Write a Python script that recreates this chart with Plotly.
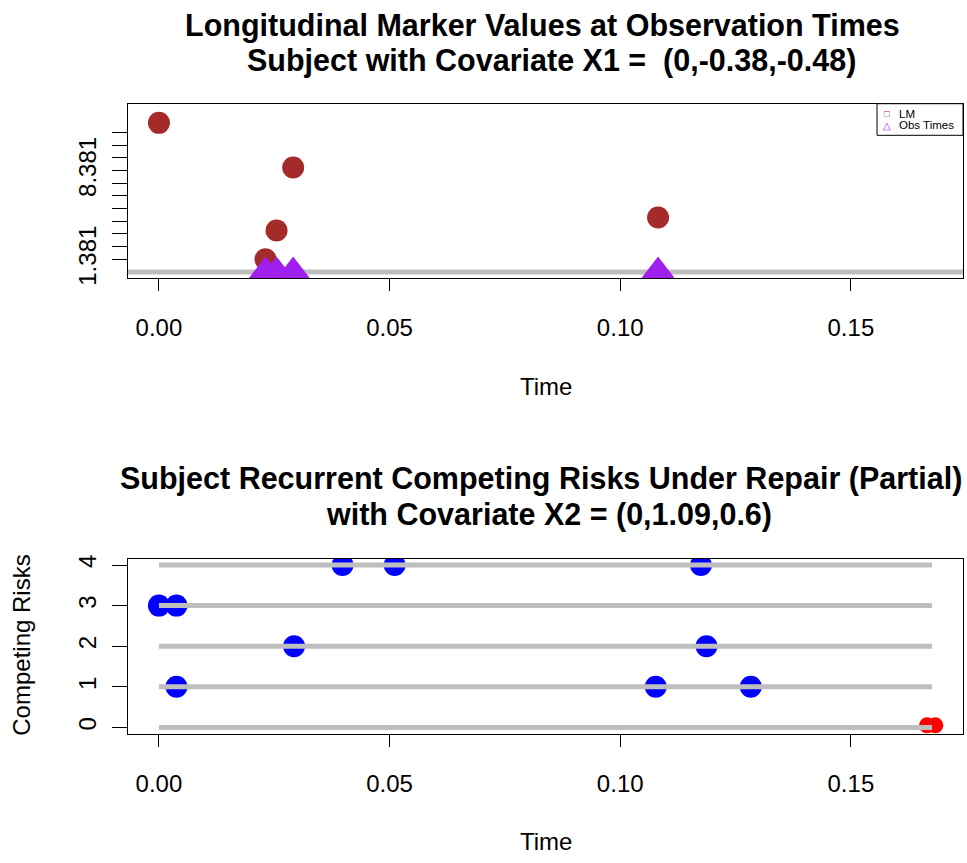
import plotly.graph_objects as go

# ---- data ----
lm_times = [0.0, 0.0231, 0.0255, 0.0291, 0.1082]
lm_values = [12.131, 1.381, 3.65, 8.62, 4.68]
obs_times = [0.0231, 0.0255, 0.0291, 0.1082]

risk_levels = [0, 1, 2, 3, 4]
event_times = [0.0, 0.0038, 0.0038, 0.0293, 0.0398, 0.0511, 0.1077, 0.1175, 0.1187, 0.1283]
event_risks = [3, 3, 1, 2, 4, 4, 1, 4, 2, 1]
censor_times = [0.1665, 0.1683]
censor_risks = [0.05, 0.05]
t_max = 0.1676

x_ticks = [0.0, 0.05, 0.10, 0.15]
x_ticktext = ["0.00", "0.05", "0.10", "0.15"]

title1 = ["Longitudinal Marker Values at Observation Times",
          "Subject with Covariate X1 =\u00a0 (0,-0.38,-0.48)"]
title2 = ["Subject Recurrent Competing Risks Under Repair (Partial)",
          "with Covariate X2 = (0,1.09,0.6)"]

BROWN = "#A52A2A"
PURPLE = "#A020F0"
GRAY = "#BEBEBE"
FONT = "Liberation Sans, Arial, sans-serif"
W, H = 967, 863

# derived ranges (R style 4% padding)
tmin, tmax = 0.0, t_max
xpad = 0.04 * (tmax - tmin)
xrange = [tmin - xpad, tmax + xpad]

ymin = min(lm_values)
ymax = max(lm_values)
ylo, yhi = ymin - 1, ymax + 1
ypad = 0.04 * (yhi - ylo)
yrange1 = [ylo - ypad, yhi + ypad]
baseline = ylo
ytick1 = [round(ymin + k, 3) for k in range(int(ymax - ymin) + 1)]
ytext1 = [("%.3f" % v) if i in (0, 7) else "" for i, v in enumerate(ytick1)]

yrange2 = [-0.16, 4.16]

fig = go.Figure()

# ---- top panel ----
fig.add_trace(go.Scatter(x=lm_times, y=lm_values, mode="markers",
                         marker=dict(color=BROWN, size=22, symbol="circle"),
                         xaxis="x", yaxis="y", showlegend=False, hoverinfo="skip"))
fig.add_trace(go.Scatter(x=obs_times, y=[baseline] * len(obs_times), mode="markers",
                         marker=dict(color=PURPLE, size=26, symbol="triangle-up",
                                     line=dict(color=PURPLE, width=3)),
                         xaxis="x", yaxis="y", showlegend=False, hoverinfo="skip"))

# ---- bottom panel ----
fig.add_trace(go.Scatter(x=censor_times, y=censor_risks, mode="markers",
                         marker=dict(color="#FF0000", size=16),
                         xaxis="x2", yaxis="y2", showlegend=False, hoverinfo="skip"))
fig.add_trace(go.Scatter(x=event_times, y=event_risks, mode="markers",
                         marker=dict(color="#0000FF", size=22),
                         xaxis="x2", yaxis="y2", showlegend=False, hoverinfo="skip"))
for r in risk_levels:
    fig.add_trace(go.Scatter(x=[0.0, t_max], y=[r, r], mode="lines",
                             line=dict(color=GRAY, width=5),
                             xaxis="x2", yaxis="y2", showlegend=False, hoverinfo="skip"))

axis_common = dict(showline=True, linecolor="black", linewidth=1, mirror=True,
                   ticks="outside", tickcolor="black", ticklen=12, tickwidth=1,
                   showgrid=False, zeroline=False,
                   tickfont=dict(family=FONT, size=24, color="black"))

dom_x = [128 / W, 963 / W]
fig.update_layout(
    width=W, height=H, margin=dict(l=0, r=0, t=0, b=0),
    paper_bgcolor="white", plot_bgcolor="white",
    xaxis=dict(domain=dom_x, anchor="y", range=xrange, tickvals=x_ticks,
               ticktext=x_ticktext, ticklabelstandoff=16, **axis_common),
    yaxis=dict(domain=[1 - 278 / H, 1 - 101 / H], anchor="x", range=yrange1,
               tickvals=ytick1, ticktext=ytext1, tickangle=-90,
               ticklabelstandoff=6, **{**axis_common, "ticklen": 15}),
    xaxis2=dict(domain=dom_x, anchor="y2", range=xrange, tickvals=x_ticks,
                ticktext=x_ticktext, ticklabelstandoff=16, **axis_common),
    yaxis2=dict(domain=[1 - 739.3 / H, 1 - 561.7 / H], anchor="x2", range=yrange2,
                tickvals=risk_levels, tickangle=-90, ticklabelstandoff=6,
                **{**axis_common, "ticklen": 15}),
)

# grey baseline in top panel
fig.add_shape(type="line", xref="x domain", yref="y", x0=0, x1=1,
              y0=baseline, y1=baseline, line=dict(color=GRAY, width=5), layer="below")


def ann(text, px, py, size, bold=False, color="black", xanchor="center", angle=0):
    fig.add_annotation(text=("<b>%s</b>" % text) if bold else text,
                       x=px / W, y=1 - py / H, xref="paper", yref="paper",
                       xanchor=xanchor, yanchor="middle", showarrow=False,
                       textangle=angle,
                       font=dict(family=FONT, size=size, color=color))


ann(title1[0], 542, 21.5, 30.5, bold=True)
ann(title1[1], 551, 57.5, 30.5, bold=True)
ann(title2[0], 541, 481, 30.5, bold=True)
ann(title2[1], 549, 517, 30.5, bold=True)
ann("Time", 546, 387, 24)
ann("Time", 546, 848, 24)
ann("Competing Risks", 22, 650, 24, angle=-90)

# legend box
fig.add_shape(type="rect", xref="paper", yref="paper",
              x0=877 / W, x1=963 / W, y0=1 - 133 / H, y1=1 - 101 / H,
              line=dict(color="black", width=1), fillcolor="white")
ann("\u25a1", 887, 111, 9.5, color=BROWN)
ann("\u25b3", 887, 123, 9.5, color=PURPLE)
ann("LM", 897, 111, 11.5, xanchor="left")
ann("Obs Times", 897, 123, 11.5, xanchor="left")

fig.write_html("out.html")
